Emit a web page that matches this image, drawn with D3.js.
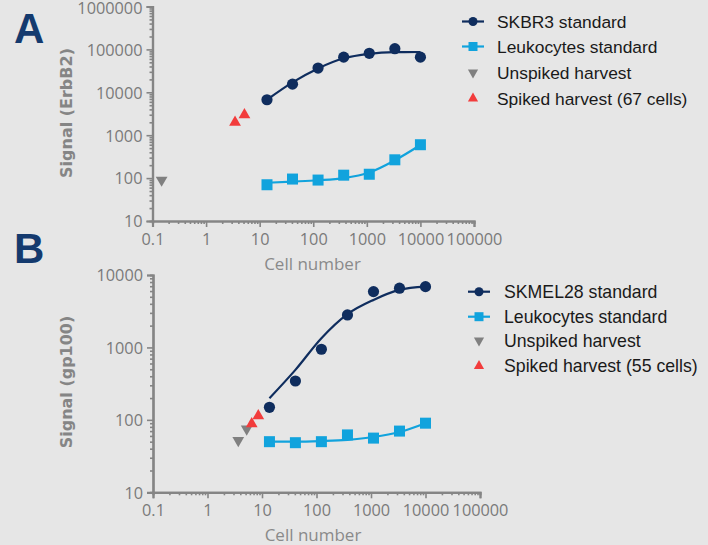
<!DOCTYPE html>
<html><head><meta charset="utf-8">
<script src="https://cdn.jsdelivr.net/npm/d3@7"></script>
<style>html,body{margin:0;padding:0;background:#e6e6e6;}svg{display:block;}</style>
</head><body>
<svg id="c" width="708" height="545"></svg>
<script>
// ---- Data ----
const cellsStd = [13.7, 41, 123, 370, 1111, 3333, 10000];

// Panel A
const skbr3 = [6700, 15500, 36700, 66000, 81000, 104000, 66000];
const leukoA = [70, 95, 90, 117, 123, 267, 600];
const skbr3Fit = [6700, 17000, 36000, 62000, 79000, 86000, 87000];
const leukoAFit = [78, 83, 89, 100, 135, 260, 590];
const unspikedAx = [0.148];
const unspikedAy = [90];
const spikedAx = [3.47, 5.2];
const spikedAy = [2000, 2970];

// Panel B
const skmel28 = [149, 344, 944, 2810, 5900, 6580, 6910];
const leukoB = [50, 48.4, 50, 62, 56, 70, 90];
const skmel28Fit = [199, 490, 1340, 2880, 4530, 6220, 6900];
const leukoBFit = [50, 50, 51, 53, 58, 68, 90];
const unspikedBx = [3.67, 5.24];
const unspikedBy = [52, 75];
const spikedBx = [6.47, 8.55];
const spikedBy = [88, 114];

const xTicks = [0.1, 1, 10, 100, 1000, 10000, 100000];
const yTicksA = [10, 100, 1000, 10000, 100000, 1000000];
const yTicksB = [10, 100, 1000, 10000];
const legendA = ["SKBR3 standard", "Leukocytes standard", "Unspiked harvest", "Spiked harvest (67 cells)"];
const legendB = ["SKMEL28 standard", "Leukocytes standard", "Unspiked harvest", "Spiked harvest (55 cells)"];

// ---- Styles ----
const NAVY = "#0f2d5e", BLUE = "#11a3dd", GRAY = "#808080", RED = "#f23c3c", AXIS = "#858585";

const svg = d3.select("#c");

function minorTicks(lo, hi) {
  const out = [];
  for (let d = lo; d < hi; d *= 10) for (let m = 2; m <= 9; m++) out.push(d * m);
  return out;
}

function panel(cfg) {
  const x = d3.scaleLog().domain([0.1, 100000]).range(cfg.xr);
  const y = d3.scaleLog().domain(cfg.yd).range(cfg.yr);
  const g = svg.append("g");

  // axes
  const gx = g.append("g").attr("transform", `translate(0,${cfg.yr[0]})`);
  gx.call(d3.axisBottom(x).tickValues(minorTicks(0.1, 100000)).tickSize(3).tickFormat(""));
  gx.append("g").call(d3.axisBottom(x).tickValues(xTicks).tickSize(6).tickFormat(d3.format("~")));
  const gy = g.append("g").attr("transform", `translate(${cfg.xr[0]},0)`);
  gy.call(d3.axisLeft(y).tickValues(minorTicks(cfg.yd[0], cfg.yd[1])).tickSize(3).tickFormat(""));
  gy.append("g").call(d3.axisLeft(y).tickValues(cfg.yTicks).tickSize(6).tickFormat(d3.format("~")));
  g.selectAll(".domain").attr("stroke", AXIS).attr("stroke-width", 2.2);
  g.selectAll(".tick line").attr("stroke", AXIS).attr("stroke-width", 1.6);
  g.selectAll(".tick text").attr("fill", "#7a7a7a").style("font-family", "'Open Sans', sans-serif").style("font-size", "16.3px");
  gx.selectAll(".tick text").attr("dy", "0.9em");
  gy.selectAll(".tick text").attr("dx", "-1px").attr("dy", d => y(d) < 12 ? "0.45em" : "0.36em");

  // titles
  g.append("text").attr("x", cfg.xr[0] + 160).attr("y", cfg.xlabY).attr("text-anchor", "middle")
    .attr("fill", "#8a8a8a").style("font-family", "'Open Sans', sans-serif").style("font-size", "17px").text("Cell number");
  g.append("text").attr("transform", `translate(${cfg.ylabX},${cfg.ylabY}) rotate(-90)`).attr("text-anchor", "middle")
    .attr("fill", "#858585").style("font-family", "'DejaVu Sans', sans-serif").style("font-weight", "bold").style("font-size", "16px")
    .text(cfg.ytitle);
  g.append("text").attr("x", 14).attr("y", cfg.letterY).attr("fill", "#143a6e")
    .style("font-family", "'Liberation Sans', Arial, sans-serif").style("font-weight", "bold").style("font-size", "42px").text(cfg.letter);

  // fits
  const line = d3.line().x((d, i) => x(cellsStd[i])).y(d => y(d)).curve(d3.curveMonotoneX);
  g.append("path").attr("d", line(cfg.fitDark)).attr("fill", "none").attr("stroke", NAVY).attr("stroke-width", 2.2);
  g.append("path").attr("d", line(cfg.fitBlue)).attr("fill", "none").attr("stroke", BLUE).attr("stroke-width", 2.2);

  // points
  g.selectAll(null).data(cfg.dark).enter().append("circle")
    .attr("cx", (d, i) => x(cellsStd[i])).attr("cy", d => y(d)).attr("r", 5.6).attr("fill", NAVY);
  const sq = 11;
  g.selectAll(null).data(cfg.blue).enter().append("rect")
    .attr("x", (d, i) => x(cellsStd[i]) - sq / 2).attr("y", d => y(d) - sq / 2).attr("width", sq).attr("height", sq).attr("fill", BLUE);
  const triDown = d3.symbol().type(d3.symbolTriangle).size(60);
  g.selectAll(null).data(cfg.unX).enter().append("path").attr("d", triDown)
    .attr("transform", (d, i) => `translate(${x(d)},${y(cfg.unY[i])}) rotate(180)`).attr("fill", GRAY);
  g.selectAll(null).data(cfg.spX).enter().append("path").attr("d", triDown)
    .attr("transform", (d, i) => `translate(${x(d)},${y(cfg.spY[i])})`).attr("fill", RED);

  // legend
  const lg = g.append("g");
  cfg.legend.forEach((t, i) => {
    const ly = cfg.legY[i];
    const sx = cfg.legX;
    if (i === 0) {
      lg.append("line").attr("x1", sx - 11).attr("x2", sx + 11).attr("y1", ly).attr("y2", ly).attr("stroke", NAVY).attr("stroke-width", 2.2);
      lg.append("circle").attr("cx", sx).attr("cy", ly).attr("r", 4.5).attr("fill", NAVY);
    } else if (i === 1) {
      lg.append("line").attr("x1", sx - 11).attr("x2", sx + 11).attr("y1", ly).attr("y2", ly).attr("stroke", BLUE).attr("stroke-width", 2.2);
      lg.append("rect").attr("x", sx - 4.5).attr("y", ly - 4.5).attr("width", 9).attr("height", 9).attr("fill", BLUE);
    } else if (i === 2) {
      lg.append("path").attr("d", d3.symbol().type(d3.symbolTriangle).size(45)).attr("transform", `translate(${sx},${ly}) rotate(180)`).attr("fill", GRAY);
    } else {
      lg.append("path").attr("d", d3.symbol().type(d3.symbolTriangle).size(45)).attr("transform", `translate(${sx},${ly})`).attr("fill", RED);
    }
    lg.append("text").attr("x", cfg.legTX).attr("y", ly).attr("dy", "0.35em").attr("fill", "#1a1a1a")
      .style("font-family", "'Liberation Sans', Arial, sans-serif").style("font-size", cfg.legFs).text(t);
  });
}

panel({
  xr: [152.5, 474], yd: [10, 1000000], yr: [221, 6.5], yTicks: yTicksA,
  xlabY: 270, ylabX: 72, ylabY: 113, ytitle: "Signal (ErbB2)", letter: "A", letterY: 43,
  dark: skbr3, blue: leukoA, fitDark: skbr3Fit, fitBlue: leukoAFit,
  unX: unspikedAx, unY: unspikedAy, spX: spikedAx, spY: spikedAy,
  legend: legendA, legX: 473, legTX: 497, legY: [21.5, 46.5, 72.5, 98.5], legFs: "17.4px"
});
panel({
  xr: [153, 480], yd: [10, 10000], yr: [492.3, 275], yTicks: yTicksB,
  xlabY: 541, ylabX: 72, ylabY: 382, ytitle: "Signal (gp100)", letter: "B", letterY: 263,
  dark: skmel28, blue: leukoB, fitDark: skmel28Fit, fitBlue: leukoBFit,
  unX: unspikedBx, unY: unspikedBy, spX: spikedBx, spY: spikedBy,
  legend: legendB, legX: 479, legTX: 504, legY: [291.7, 316.7, 340.5, 366], legFs: "17.7px"
});
</script>
</body></html>
